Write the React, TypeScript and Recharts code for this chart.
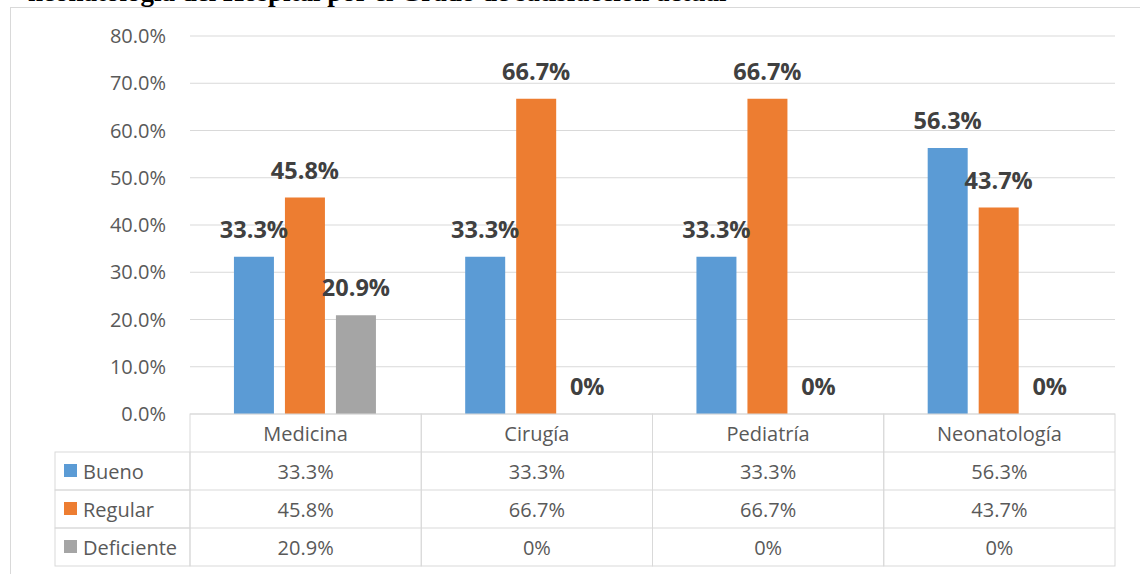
import { BarChart, Bar, XAxis, YAxis, CartesianGrid, LabelList } from "recharts";

const categories = ["Medicina", "Cirugía", "Pediatría", "Neonatología"];
const bueno = [33.3, 33.3, 33.3, 56.3];
const regular = [45.8, 66.7, 66.7, 43.7];
const deficiente = [20.9, 0, 0, 0];
const yTicks = [0, 10, 20, 30, 40, 50, 60, 70, 80];

const series = [
  { key: "bueno", name: "Bueno", color: "#5B9BD5", values: bueno },
  { key: "regular", name: "Regular", color: "#ED7D31", values: regular },
  { key: "deficiente", name: "Deficiente", color: "#A5A5A5", values: deficiente },
];

const data = categories.map((name, i) => ({
  name,
  bueno: bueno[i],
  regular: regular[i],
  deficiente: deficiente[i],
}));

const FONT = "'Open Sans', sans-serif";
const GRID = "#d9d9d9";
const W = 1140;
const H = 574;
const PLOT_LEFT = 190;
const PLOT_RIGHT = 1115;
const PLOT_TOP = 36;
const PLOT_BOTTOM = 414;
const ROW_H = 38;
const LEGEND_LEFT = 55;

const fmt = (v: number) => (v === 0 ? "0%" : `${v.toFixed(1)}%`);

const TableTick = (props: any) => {
  const { payload, index } = props;
  const band = (PLOT_RIGHT - PLOT_LEFT) / categories.length;
  const cx = payload.coordinate;
  const x0 = cx - band / 2;
  const top = PLOT_BOTTOM;
  const i = categories.indexOf(payload.value);
  return (
    <g>
      <rect x={x0} y={top} width={band} height={ROW_H * 4} fill="none" stroke={GRID} />
      {series.map((s, r) => (
        <line key={s.key} x1={x0} x2={x0 + band} y1={top + ROW_H * (r + 1)} y2={top + ROW_H * (r + 1)} stroke={GRID} />
      ))}
      <text x={cx} y={top + 27} textAnchor="middle" fontSize={20} fill="#595959" fontFamily={FONT}>
        {payload.value}
      </text>
      {series.map((s, r) => (
        <text key={s.key} x={cx} y={top + ROW_H * (r + 1) + 27} textAnchor="middle" fontSize={20} fill="#595959" fontFamily={FONT}>
          {fmt(s.values[i])}
        </text>
      ))}
      {index === 0 &&
        series.map((s, r) => (
          <g key={s.key}>
            <rect x={LEGEND_LEFT} y={top + ROW_H * (r + 1)} width={x0 - LEGEND_LEFT} height={ROW_H} fill="none" stroke={GRID} />
            <rect x={LEGEND_LEFT + 9} y={top + ROW_H * (r + 1) + 12} width={13} height={13} fill={s.color} />
            <text x={LEGEND_LEFT + 28} y={top + ROW_H * (r + 1) + 27} fontSize={20} fill="#595959" fontFamily={FONT}>
              {s.name}
            </text>
          </g>
        ))}
    </g>
  );
};

const BarLabel = (props: any) => {
  const { x, y, width, value } = props;
  return (
    <text x={x + width / 2} y={y - 19} textAnchor="middle" fontSize={23.5} fontWeight="bold" fill="#404040" fontFamily={FONT}>
      {fmt(Number(value))}
    </text>
  );
};

export default function App() {
  return (
    <div style={{ position: "absolute", left: 0, top: 0, width: W, height: H, background: "#fff", overflow: "hidden" }}>
      <svg width={W} height={H} style={{ position: "absolute", left: 0, top: 0 }}>
        <text x={28} y={1} fontSize={27} fontWeight="bold" fontFamily="'Liberation Serif', serif" fill="#000">
          neonatología del Hospital por el Grado de satisfacción actual
        </text>
        <line x1={10} x2={W} y1={7.5} y2={7.5} stroke={GRID} />
        <line x1={10.5} x2={10.5} y1={7} y2={H} stroke={GRID} />
      </svg>
      <div style={{ position: "absolute", left: 0, top: 0 }}>
        <BarChart
          width={W}
          height={H}
          data={data}
          margin={{ top: PLOT_TOP, right: W - PLOT_RIGHT, bottom: 0, left: 10 }}
          barCategoryGap="19%"
          barGap={11}
        >
          <CartesianGrid vertical={false} stroke={GRID} />
          <YAxis
            width={PLOT_LEFT - 10}
            domain={[0, 80]}
            ticks={yTicks}
            tickFormatter={(v: number) => `${v.toFixed(1)}%`}
            axisLine={false}
            tickLine={false}
            tickMargin={18}
            tick={{ fill: "#595959", fontSize: 20, fontFamily: FONT }}
          />
          <XAxis
            dataKey="name"
            height={H - PLOT_BOTTOM}
            axisLine={false}
            tickLine={false}
            interval={0}
            tick={<TableTick />}
          />
          {series.map((s) => (
            <Bar key={s.key} dataKey={s.key} name={s.name} fill={s.color} minPointSize={0.01} isAnimationActive={false}>
              <LabelList dataKey={s.key} content={<BarLabel />} />
            </Bar>
          ))}
        </BarChart>
      </div>
    </div>
  );
}
